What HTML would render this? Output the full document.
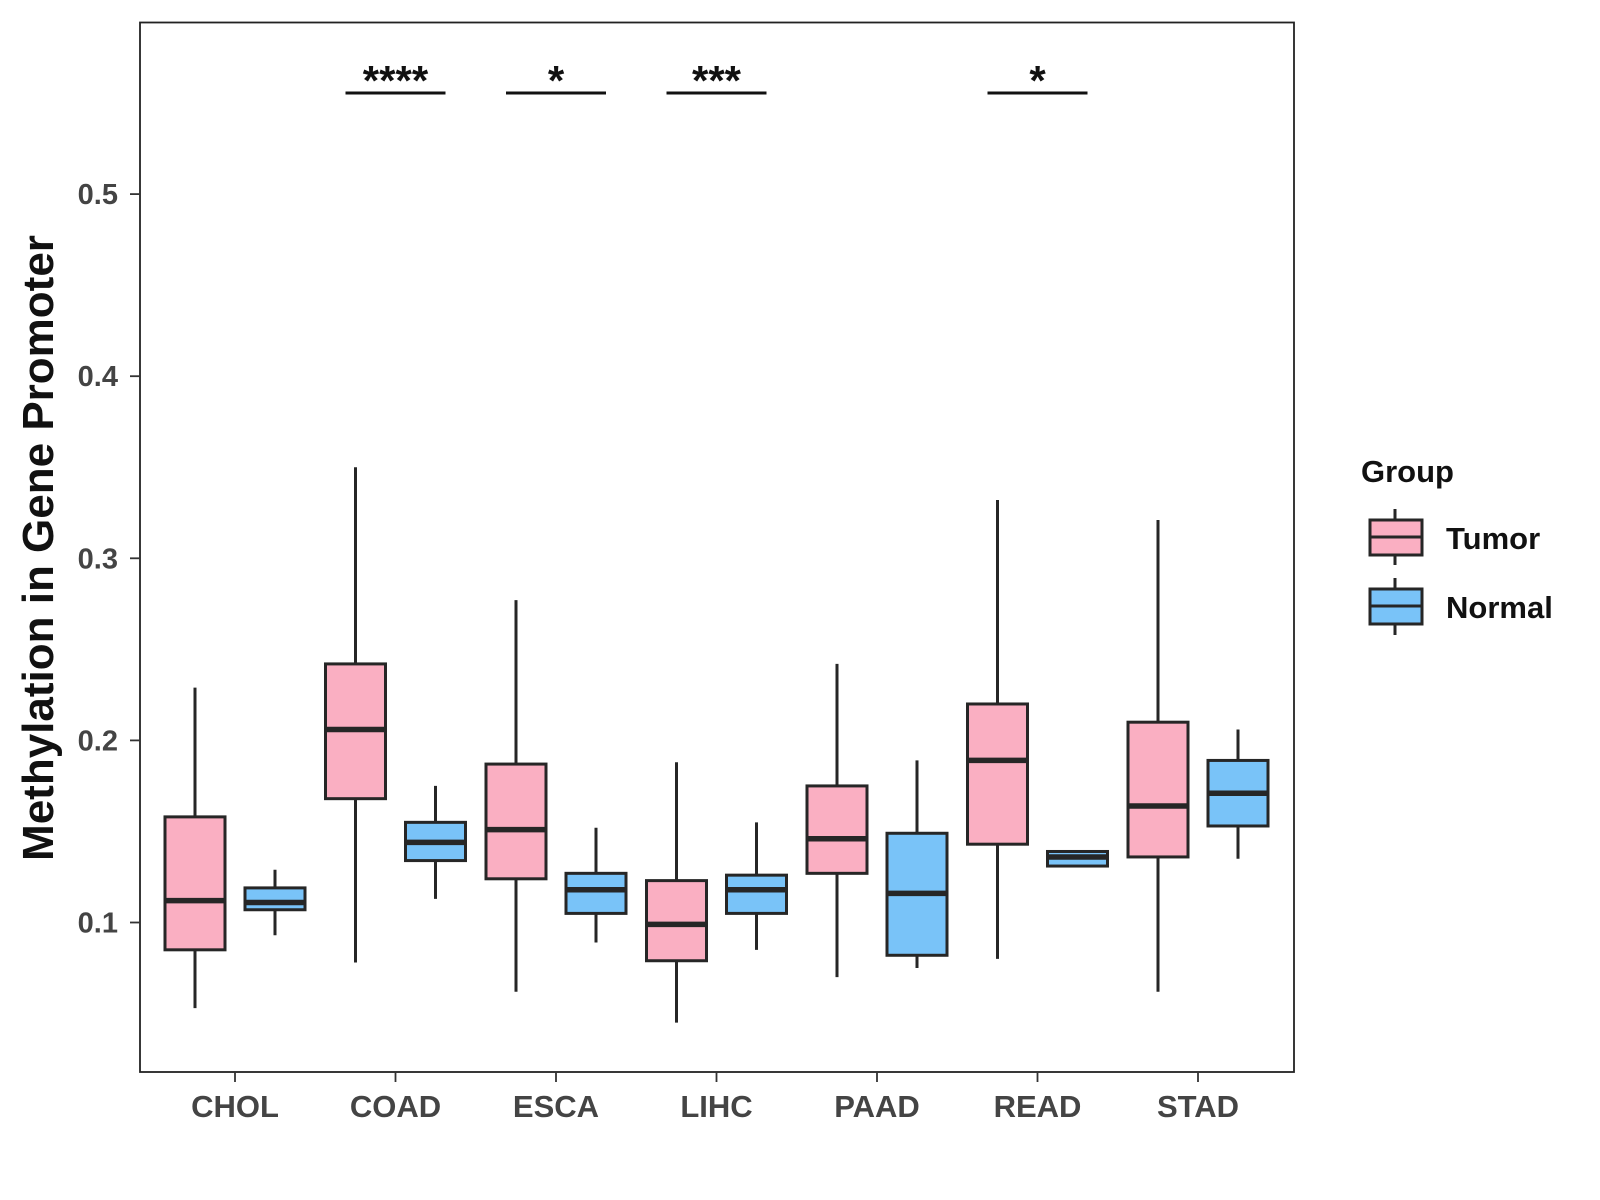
<!DOCTYPE html>
<html><head><meta charset="utf-8"><style>body{margin:0;background:#fff}svg{display:block;font-family:"Liberation Sans",sans-serif}</style></head>
<body>
<svg id="chart" width="1600" height="1200"></svg>
<script>
const categories=["CHOL","COAD","ESCA","LIHC","PAAD","READ","STAD"];
const tumorMin=[0.053,0.078,0.062,0.045,0.070,0.080,0.062];
const tumorQ1=[0.085,0.168,0.124,0.079,0.127,0.143,0.136];
const tumorMed=[0.112,0.206,0.151,0.099,0.146,0.189,0.164];
const tumorQ3=[0.158,0.242,0.187,0.123,0.175,0.220,0.210];
const tumorMax=[0.229,0.350,0.277,0.188,0.242,0.332,0.321];
const normalMin=[0.093,0.113,0.089,0.085,0.075,0.131,0.135];
const normalQ1=[0.107,0.134,0.105,0.105,0.082,0.131,0.153];
const normalMed=[0.111,0.144,0.118,0.118,0.116,0.136,0.171];
const normalQ3=[0.119,0.155,0.127,0.126,0.149,0.139,0.189];
const normalMax=[0.129,0.175,0.152,0.155,0.189,0.139,0.206];
const yTicks=[0.1,0.2,0.3,0.4,0.5];
const sigCats=["COAD","ESCA","LIHC","READ"];
const sigLabels=["****","*","***","*"];

const NS="http://www.w3.org/2000/svg";
const svg=document.getElementById("chart");
const L=140,T=22.5,R=1294,B=1072;
const y=v=>922.5-(v-0.1)*1821;
const x=i=>235+i*160.5;
function el(tag,attrs,parent){const e=document.createElementNS(NS,tag);for(const k in attrs)e.setAttribute(k,attrs[k]);(parent||svg).appendChild(e);return e;}

const panel=el("rect",{x:L,y:T,width:R-L,height:B-T,fill:"#fff",stroke:"#222","stroke-width":1.8});



yTicks.forEach(t=>{
  const tk=el("line",{x1:L-10,x2:L,y1:y(t),y2:y(t),stroke:"#333","stroke-width":1.8});
  
  
  const tx=el("text",{x:L-22,y:y(t)+10,"text-anchor":"end","font-size":29,"font-weight":"bold",fill:"#444"});
  tx.textContent=t.toFixed(1);
  
  
});
categories.forEach((c,i)=>{
  const tk=el("line",{x1:x(i),x2:x(i),y1:B,y2:B+10,stroke:"#333","stroke-width":1.8});
  
  
  const tx=el("text",{x:x(i),y:1117,"text-anchor":"middle","font-size":31,"font-weight":"bold",fill:"#444"});
  tx.textContent=c;
  
  
});
function box(cx,mn,q1,md,q3,mx,fill,name){
  const g=el("g",{});
  
  
  el("line",{x1:cx,x2:cx,y1:y(mx),y2:y(mn),stroke:"#262626","stroke-width":3},g);
  el("rect",{x:cx-30,y:y(q3),width:60,height:Math.max(y(q1)-y(q3),1),fill:fill,stroke:"#262626","stroke-width":3},g);
  el("line",{x1:cx-30,x2:cx+30,y1:y(md),y2:y(md),stroke:"#262626","stroke-width":5.5},g);
}
categories.forEach((c,i)=>{
  box(x(i)-40,tumorMin[i],tumorQ1[i],tumorMed[i],tumorQ3[i],tumorMax[i],"#FAAFC2","tumor-box-"+c.toLowerCase());
  box(x(i)+40,normalMin[i],normalQ1[i],normalMed[i],normalQ3[i],normalMax[i],"#79C3F8","normal-box-"+c.toLowerCase());
});
sigCats.forEach((c,j)=>{
  const i=categories.indexOf(c);
  const ln=el("line",{x1:x(i)-50,x2:x(i)+50,y1:93,y2:93,stroke:"#111","stroke-width":3});
  
  
  const tx=el("text",{x:x(i),y:95,"text-anchor":"middle","font-size":42,"font-weight":"bold",fill:"#111"});
  tx.textContent=sigLabels[j];
  
  
});
</script>
<svg style="position:absolute;left:0;top:0" width="1600" height="1200">
<text x="53" y="548" transform="rotate(-90 53 548)" text-anchor="middle" font-size="44" font-weight="bold" fill="#111">Methylation in Gene Promoter</text>
<g>
<text x="1361" y="482" font-size="31" font-weight="bold" fill="#111">Group</text>
<g>
<line x1="1395" x2="1395" y1="509" y2="565" stroke="#262626" stroke-width="3"/>
<rect x="1370" y="520" width="52" height="35" fill="#FAAFC2" stroke="#262626" stroke-width="3"/>
<line x1="1370" x2="1422" y1="537" y2="537" stroke="#262626" stroke-width="3"/>
<text x="1446" y="549" font-size="31" font-weight="bold" fill="#111">Tumor</text>
</g>
<g>
<line x1="1395" x2="1395" y1="578" y2="635" stroke="#262626" stroke-width="3"/>
<rect x="1370" y="589" width="52" height="35" fill="#79C3F8" stroke="#262626" stroke-width="3"/>
<line x1="1370" x2="1422" y1="606" y2="606" stroke="#262626" stroke-width="3"/>
<text x="1446" y="618" font-size="31" font-weight="bold" fill="#111">Normal</text>
</g>
</g>
</svg>
</body></html>
